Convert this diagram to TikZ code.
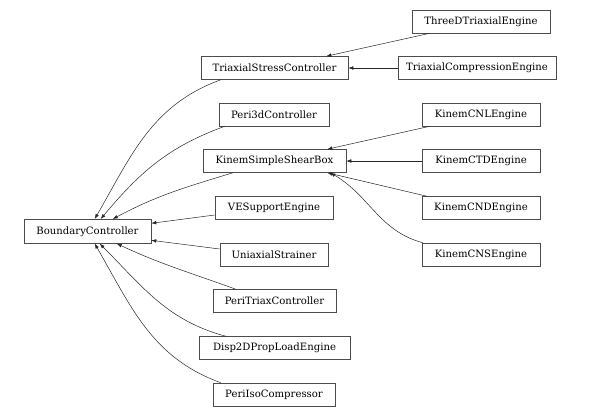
\documentclass[tikz,border=0pt]{standalone}
\usepackage{fontspec}
\setmainfont{DejaVu Serif}
\usetikzlibrary{positioning,arrows.meta}

\begin{document}
\begin{tikzpicture}[x=1pt,y=-1pt]
            \tikzset{
                cls node/.style={rectangle,draw=black!70,line width=0.6pt,minimum height=23pt,inner sep=0,font=\fontsize{10.1}{12}\selectfont},
                inh edge/.style={draw=black!85,line width=0.5pt,-{Latex[length=5pt,width=3.6pt]}}
            }
            \useasboundingbox (0,0) rectangle (589,416);
            \node[cls node,minimum width=127pt,minimum height=24pt] (bc) at (87.5,231.3) {BoundaryController};
            \node[cls node,minimum width=147pt] (tsc) at (274.5,68) {TriaxialStressController};
            \node[cls node,minimum width=110pt] (p3d) at (274,114.5) {Peri3dController};
            \node[cls node,minimum width=143pt] (kssb) at (274.5,161) {KinemSimpleShearBox};
            \node[cls node,minimum width=118pt] (ves) at (274,208) {VESupportEngine};
            \node[cls node,minimum width=108pt] (uni) at (274,254.5) {UniaxialStrainer};
            \node[cls node,minimum width=123pt] (ptc) at (274.5,301) {PeriTriaxController};
            \node[cls node,minimum width=151pt] (d2d) at (274.5,348) {Disp2DPropLoadEngine};
            \node[cls node,minimum width=122pt] (pic) at (274,394.5) {PeriIsoCompressor};
            \node[cls node,minimum width=138pt] (tdt) at (481,21.5) {ThreeDTriaxialEngine};
            \node[cls node,minimum width=158pt] (tce) at (477,68) {TriaxialCompressionEngine};
            \node[cls node,minimum width=118pt] (cnl) at (481,114.5) {KinemCNLEngine};
            \node[cls node,minimum width=118pt] (ctd) at (481,161) {KinemCTDEngine};
            \node[cls node,minimum width=118pt] (cnd) at (481,208) {KinemCNDEngine};
            \node[cls node,minimum width=118pt] (cns) at (481,254.5) {KinemCNSEngine};
            \path
                ([xshift=20pt]tsc.south west) edge[inh edge,out=200,in=60] ([xshift=71pt]bc.north west)
                ([xshift=6pt]p3d.south west) edge[inh edge,out=200,in=50] ([xshift=77pt]bc.north west)
                ([xshift=30pt]kssb.south west) edge[inh edge,out=197,in=28] ([xshift=89pt]bc.north west)
                ([yshift=-7pt]ves.west) edge[inh edge] ([yshift=8pt]bc.east)
                ([yshift=5.5pt]uni.west) edge[inh edge] ([yshift=-9pt]bc.east)
                ([xshift=23pt]ptc.north west) edge[inh edge,out=160,in=-25] ([xshift=93pt]bc.south west)
                ([xshift=27pt]d2d.north west) edge[inh edge,out=165,in=-45] ([xshift=76pt]bc.south west)
                ([xshift=8pt]pic.north west) edge[inh edge,out=160,in=-60] ([xshift=71pt]bc.south west)
                ([xshift=18pt]tdt.south west) edge[inh edge] ([xshift=-22pt]tsc.north east)
                (tce) edge[inh edge] (tsc)
                ([xshift=8pt]cnl.south west) edge[inh edge] ([xshift=-19pt]kssb.north east)
                (ctd) edge[inh edge] (kssb)
                ([xshift=5pt]cnd.north west) edge[inh edge] ([xshift=-19pt]kssb.south east)
                ([xshift=1pt]cns.north west) edge[inh edge,out=165,in=-30] ([xshift=-16pt]kssb.south east)
                ;
        \end{tikzpicture}
\end{document}
